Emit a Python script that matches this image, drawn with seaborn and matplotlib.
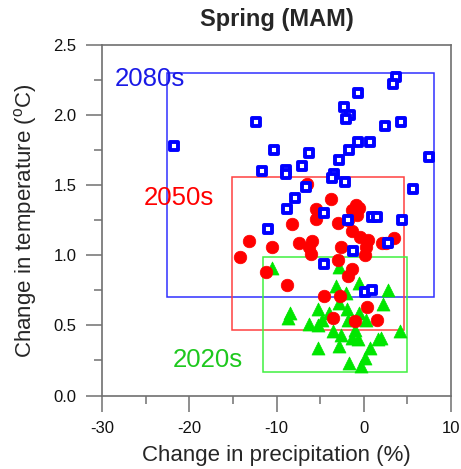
import matplotlib
matplotlib.use("Agg")
import matplotlib.pyplot as plt
import pandas as pd
import seaborn as sns
from matplotlib.patches import Rectangle
from matplotlib.ticker import MultipleLocator, FormatStrFormatter

# 2080s projections (blue squares)
precip_2080 = [-21.8, -12.3, -0.7, 3.7, 3.3, -2.3, -1.6, -2.0, 2.4, 4.3,
               -0.7, 0.7, -1.7, -2.8, -10.3, -6.3, -7.1, -8.9, -8.9, -11.7,
               7.5, -3.4, -3.6, -2.2, -6.6, 5.6, -7.9, -8.8, -4.5, -1.8,
               0.9, 1.5, 4.4, -11.0, 2.8, -1.2, -4.5, 0.1, 0.9]
temp_2080 = [1.78, 1.95, 2.16, 2.27, 2.22, 2.06, 2.00, 1.97, 1.92, 1.95,
             1.81, 1.81, 1.75, 1.68, 1.75, 1.73, 1.64, 1.61, 1.58, 1.60,
             1.70, 1.58, 1.55, 1.52, 1.49, 1.47, 1.41, 1.33, 1.30, 1.25,
             1.27, 1.27, 1.25, 1.19, 1.09, 1.03, 0.94, 0.74, 0.75]

# 2050s projections (red circles)
precip_2050 = [-6.5, -3.8, -5.5, -5.5, -8.2, -0.9, -0.5, -1.4, -0.8, -3.0,
               -1.8, -1.4, -0.4, 0.5, 0.3, 0.1, 2.6, 3.5, 2.1, -2.6,
               -2.9, -1.3, -1.8, -5.9, -6.3, -6.1, -7.4, -13.1, -10.5, -14.2,
               -11.2, -8.8, -4.6, -2.7, 0.4, -3.5, -1.0, 1.5]
temp_2050 = [1.51, 1.40, 1.33, 1.26, 1.22, 1.36, 1.34, 1.32, 1.29, 1.23,
             1.25, 1.17, 1.13, 1.11, 1.06, 1.00, 1.09, 1.12, 1.09, 1.06,
             0.97, 0.90, 0.85, 1.10, 1.06, 1.01, 1.09, 1.10, 1.06, 0.99,
             0.88, 0.79, 0.71, 0.71, 0.63, 0.55, 0.53, 0.54]

# 2020s projections (green triangles)
precip_2020 = [-10.5, -2.8, -3.2, -0.6, 2.8, -2.0, -8.4, -8.7, -2.8, -5.2,
               -1.9, 2.2, -4.0, -0.6, -4.8, 0.3, -1.8, -6.3, -5.3, -1.0,
               -3.5, -2.6, -1.3, -0.7, 1.6, 2.0, 4.1, -5.3, -2.8, 0.7,
               0.2, -1.7, -0.3]
temp_2020 = [0.91, 0.92, 0.78, 0.80, 0.75, 0.73, 0.59, 0.55, 0.66, 0.62,
             0.62, 0.65, 0.59, 0.59, 0.54, 0.54, 0.54, 0.51, 0.50, 0.47,
             0.46, 0.43, 0.41, 0.40, 0.40, 0.41, 0.46, 0.34, 0.35, 0.34,
             0.27, 0.23, 0.21]

# range boxes for each period: (precip min, precip max, temp min, temp max)
range_2080 = (-22.6, 8.1, 0.70, 2.30)
range_2050 = (-15.1, 4.6, 0.47, 1.56)
range_2020 = (-11.6, 5.0, 0.17, 0.99)

sns.set_style("ticks")
plt.rcParams["font.family"] = ["Liberation Sans", "DejaVu Sans"]
plt.rcParams["mathtext.fontset"] = "custom"
plt.rcParams["mathtext.rm"] = "Liberation Sans"
plt.rcParams["axes.unicode_minus"] = False

fig = plt.figure(figsize=(4.61, 4.69), dpi=100)
ax = fig.add_axes([0.2213, 0.1567, 0.7570, 0.7474])

for rng, col in [(range_2080, "#3030ff"), (range_2050, "#ff4040"),
                 (range_2020, "#40f040")]:
    x0, x1, y0, y1 = rng
    ax.add_patch(Rectangle((x0, y0), x1 - x0, y1 - y0, fill=False,
                           edgecolor=col, lw=1.1, zorder=1))

df20 = pd.DataFrame({"precip": precip_2020, "temp": temp_2020})
df50 = pd.DataFrame({"precip": precip_2050, "temp": temp_2050})
df80 = pd.DataFrame({"precip": precip_2080, "temp": temp_2080})

sns.scatterplot(data=df20, x="precip", y="temp", marker="^", s=88,
                color="#00e600", edgecolor="#00e600", linewidth=0.5,
                ax=ax, zorder=2)
sns.scatterplot(data=df50, x="precip", y="temp", marker="o", s=82,
                color="#ff0000", edgecolor="#ff0000", linewidth=0.5,
                ax=ax, zorder=3)
sns.scatterplot(data=df80, x="precip", y="temp", marker="s", s=34,
                facecolor="white", edgecolor="#0000ff", linewidth=2.8,
                ax=ax, zorder=4)

ax.text(-28.5, 2.26, "2080s", color="#1a1ae6", fontsize=18.5, va="center")
ax.text(-25.2, 1.41, "2050s", color="#ff0000", fontsize=18.5, va="center")
ax.text(-21.9, 0.25, "2020s", color="#1ec81e", fontsize=18.5, va="center")

ax.set_xlim(-30, 10)
ax.set_ylim(0, 2.5)
ax.xaxis.set_major_locator(MultipleLocator(10))
ax.xaxis.set_minor_locator(MultipleLocator(5))
ax.yaxis.set_major_locator(MultipleLocator(0.5))
ax.yaxis.set_minor_locator(MultipleLocator(0.25))
ax.yaxis.set_major_formatter(FormatStrFormatter("%.1f"))

for side in ["left", "right", "top", "bottom"]:
    ax.spines[side].set_color("#707070")
    ax.spines[side].set_linewidth(1.2)
ax.tick_params(which="major", direction="out", length=11.5, width=1.1,
               color="#707070", labelsize=12, pad=7, labelcolor="#111111")
ax.tick_params(which="minor", direction="out", length=5.5, width=1.1,
               color="#707070")

ax.set_xlabel("Change in precipitation (%)", fontsize=16, labelpad=6)
ax.set_ylabel(r"Change in temperature ($^{\mathrm{o}}$C)", fontsize=16,
              labelpad=10)
ax.set_title("Spring (MAM)", fontsize=17, fontweight="bold", pad=14)

fig.savefig("out.png", dpi=100)
